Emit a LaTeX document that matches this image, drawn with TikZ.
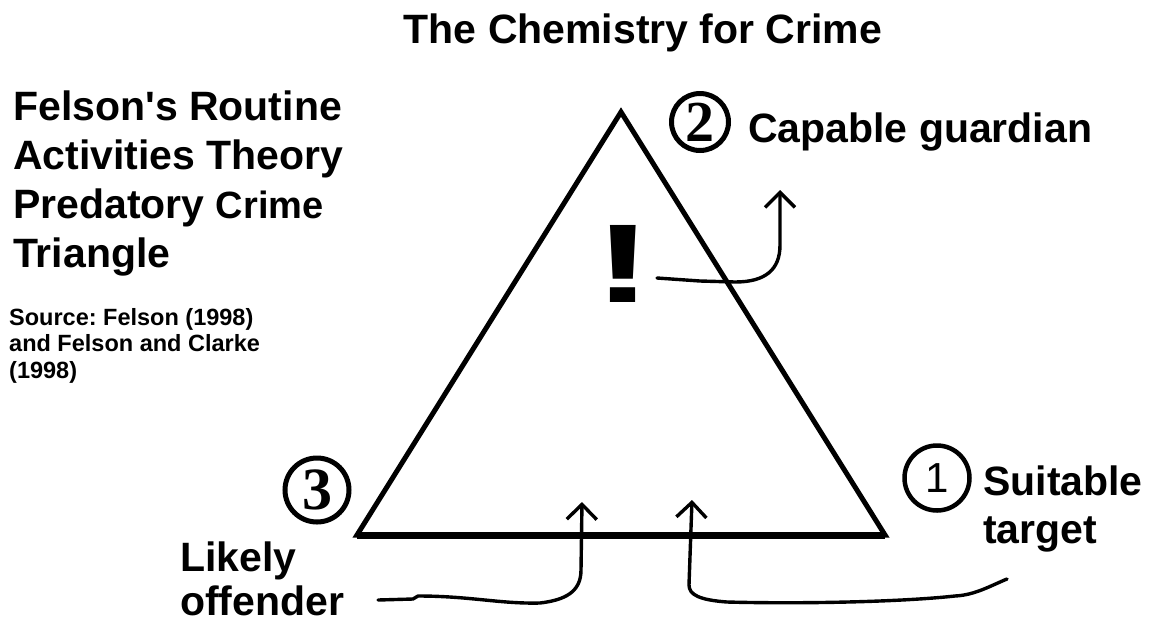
\documentclass[tikz,border=0pt]{standalone}
\usepackage{fontspec}
\setmainfont{Liberation Sans}
\newfontfamily\numserif{Liberation Serif}
\usetikzlibrary{arrows.meta}
\frenchspacing

\begin{document}
\begin{tikzpicture}[x=1pt,y=-1pt,
txt/.style={inner sep=0pt,anchor=base west,align=left,font=\bfseries\fontsize{41}{48}\selectfont},
numcirc/.style={draw,circle,line width=5pt,inner sep=0pt,minimum size=#1},
hand/.style={line width=3.4pt,line cap=round,line join=round,
    -{Straight Barb[length=15pt,width=30pt]}}]
\fill[white] (0,0) rectangle (1152,625);
\useasboundingbox (0,0) rectangle (1152,625);

% title and side text (multi-line nodes sit on their last baseline)
\node (title) [txt,anchor=base] at (643,43) {The Chemistry for Crime};
\node (heading) [txt,font=\bfseries\fontsize{41}{49}\selectfont] at (13,267) {Felson\textquotesingle s Routine\\Activities Theory\\
    Predatory {\fontsize{38}{49}\selectfont Crime}\\Triangle};
\node (source) [txt,font=\bfseries\fontsize{23.5}{26.5}\selectfont] at (9,378)
    {Source: Felson (1998)\\and Felson and Clarke\\(1998)};

% the triangle
\coordinate (apex) at (621,112);
\coordinate (left) at (357,535);
\coordinate (right) at (885,535);
\draw[line width=5pt] (left) -- (apex) -- (right) -- cycle;
\draw[line width=7pt] (left) -- (right);

% corners
\node (guard) [numcirc=57pt,font=\numserif\bfseries\fontsize{58}{58}\selectfont] at (700,122) {2};
\node (guardian) [txt] at (748,142) {Capable guardian};
\node (offend) [numcirc=64pt,font=\numserif\bfseries\fontsize{60}{60}\selectfont] at (317,490) {3};
\node (offender) [txt,font=\bfseries\fontsize{41}{44}\selectfont] at (180,615) {Likely\\offender};
\node (targ) [numcirc=65pt,line width=4.5pt,font=\fontsize{42}{42}\selectfont] at (937,478) {1};
\node (target) [txt] at (983,543) {Suitable\\target};

% the crime
\node (excl) [inner sep=0pt,anchor=base,font=\bfseries\fontsize{112}{112}\selectfont] at (623,302) {\scalebox{1.6}[1]{!}};

% hand drawn arrows
\coordinate (gfrom) at (657,278);
\coordinate (gto) at (780,190);
\draw[hand] (gfrom) -- (700,281) -- (735,282) .. controls (765,282) and (780,270) .. (780,245) -- (gto);
\coordinate (ofrom) at (378,600);
\coordinate (oto) at (582,502);
\draw[hand] (ofrom) -- (413,599) -- (418,596) .. controls (470,596) and (500,604) .. (540,603)
    .. controls (565,600) and (581,592) .. (581,570) -- (oto);
\coordinate (tfrom) at (1007,579);
\coordinate (tto) at (692,500);
\draw[hand] (tfrom) .. controls (990,586) and (975,595) .. (955,596)
    .. controls (900,602) and (800,604) .. (727,602)
    .. controls (700,600) and (689,595) .. (689,585) -- (tto);

\end{tikzpicture}
\end{document}
